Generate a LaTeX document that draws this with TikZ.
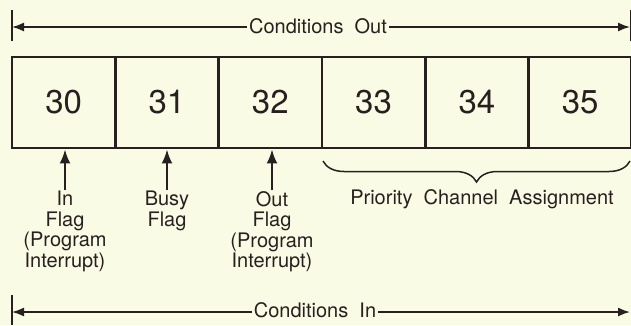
\documentclass[tikz,border=0pt]{standalone}
\usepackage{fontspec}
\setmainfont{TeX Gyre Heros}
\usepackage{tikz}
\usetikzlibrary{arrows.meta,positioning,calc,decorations.pathreplacing}
\definecolor{paper}{RGB}{250,251,228}
\definecolor{ink}{RGB}{40,32,32}

\begin{document}
\begin{tikzpicture}[x=1pt,y=-1pt,
    cell/.style={draw=ink, line width=2.8pt, minimum width=103.3pt, minimum height=91pt,
      inner sep=0pt, font=\fontsize{33}{36}\selectfont, text=ink},
    lab/.style={font=\fontsize{20}{20.5}\selectfont, text=ink, align=center, inner sep=1pt},
    dimline/.style={draw=ink, line width=1.6pt, -{Latex[length=12pt,width=9pt]}},
    tick/.style={draw=ink, line width=1.6pt},
    flagarrow/.style={draw=ink, line width=2.2pt, -{Latex[length=14pt,width=11pt]}}]
    % paper and bounding box
    \fill[paper] (0,0) rectangle (631,325);
    \useasboundingbox (0,0) rectangle (631,325);

    % Register cells 30..35
    \foreach \n [count=\i from 0] in {30,31,32,33,34,35} {
        \node[cell] (b\n) at (12+51.65+\i*103.3, 102.5) {\n};
    }

    % Conditions out
    \coordinate (outL) at (12,27);
    \coordinate (outR) at (630,27);
    \node[lab, fill=paper, inner sep=2pt] (outlab) at (318,26) {Conditions\ \ Out};
    \draw[dimline] (outlab.west |- outL) -- (outL);
    \draw[dimline] (outlab.east |- outR) -- (outR);
    \draw[tick] (12,10) -- (12,41);
    \draw[tick] (631,10) -- (631,41);

    % Flags below cells
    \node[lab, anchor=north] (lab30) at (65,190) {In\\Flag\\(Program\\Interrupt)};
    \node[lab, anchor=north] (lab31) at (167,190) {Busy\\Flag};
    \node[lab, anchor=north] (lab32) at (272,190) {Out\\Flag\\(Program\\Interrupt)};
    \draw[flagarrow] (lab30.north) -- (lab30.north |- b30.south);
    \draw[flagarrow] (lab31.north) -- (lab31.north |- b31.south);
    \draw[flagarrow] (lab32.north) -- (lab32.north |- b32.south);

    % Priority channel brace
    \coordinate (brR) at (630,161);
    \coordinate (brL) at (323,161);
    \draw[ink, line width=1.5pt, decorate, decoration={brace, amplitude=21pt}] (brR) -- (brL);
    \node[lab] (pca) at (482,199) {Priority\ \ Channel\ \ Assignment};

    % Conditions in
    \coordinate (inL) at (12,312);
    \coordinate (inR) at (630,312);
    \node[lab, fill=paper, inner sep=2pt] (inlab) at (315,310) {Conditions\ \ In};
    \draw[dimline] (inlab.west |- inL) -- (inL);
    \draw[dimline] (inlab.east |- inR) -- (inR);
    \draw[tick] (12,295) -- (12,325);
\end{tikzpicture}
\end{document}
